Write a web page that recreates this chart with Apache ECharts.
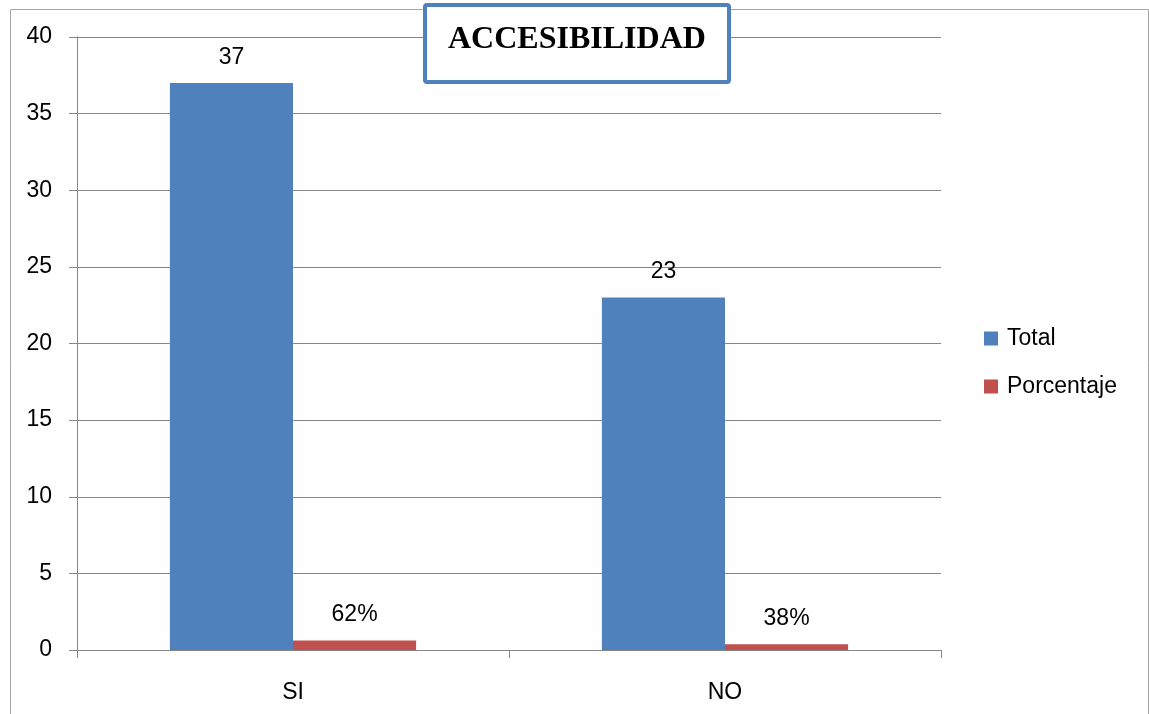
<!DOCTYPE html>
<html>
<head>
<meta charset="utf-8">
<script src="https://cdn.jsdelivr.net/npm/echarts@6/dist/echarts.min.js"></script>
<style>
html,body{margin:0;padding:0;background:#fff;}
#chart{width:1149px;height:714px;}
</style>
</head>
<body>
<div id="chart"></div>
<script>
const categories = ['SI', 'NO'];
const totalValues = [37, 23];
const porcentajeValues = [0.62, 0.38];
const seriesNames = ['Total', 'Porcentaje'];
const chartTitle = 'ACCESIBILIDAD';

const FONT = '"Liberation Sans", Arial, sans-serif';
const GRAY = '#868686';
const FS = 23;

const chart = echarts.init(document.getElementById('chart'));
chart.setOption({
  backgroundColor: '#fff',
  animation: false,
  title: {
    text: chartTitle,
    left: 425,
    top: 5,
    padding: [18, 23, 25, 23],
    backgroundColor: '#fff',
    borderColor: '#4f81bd',
    borderWidth: 4,
    borderRadius: 2,
    textStyle: {
      fontFamily: '"Liberation Serif", "Times New Roman", serif',
      fontWeight: 'bold',
      fontSize: 32,
      color: '#000',
      lineHeight: 34
    },
    z: 10
  },
  graphic: [{
    type: 'rect',
    left: 8, top: 7,
    shape: { width: 1138, height: 720 },
    style: { fill: 'none', stroke: '#a6a6a6', lineWidth: 1 },
    silent: true, z: -1
  }],
  legend: {
    orient: 'vertical',
    left: 984,
    top: 327,
    padding: 0,
    itemWidth: 14,
    itemHeight: 14,
    itemGap: 25,
    icon: 'rect',
    textStyle: { fontFamily: FONT, fontSize: FS, color: '#000', padding: [0, 0, 0, 4] },
    data: seriesNames
  },
  grid: { left: 77, right: 208, top: 37, bottom: 64 },
  xAxis: {
    type: 'category',
    data: categories,
    axisLine: { lineStyle: { color: GRAY, width: 1 } },
    axisTick: { show: true, length: 8, lineStyle: { color: GRAY } },
    axisLabel: { fontFamily: FONT, fontSize: FS, color: '#000', margin: 31 },
    splitLine: { show: false }
  },
  yAxis: {
    type: 'value',
    min: 0, max: 40, interval: 5,
    axisLine: { show: true, lineStyle: { color: GRAY, width: 1 } },
    axisTick: { show: true, length: 8, lineStyle: { color: GRAY } },
    axisLabel: { fontFamily: FONT, fontSize: FS, color: '#000', margin: 25 },
    splitLine: { show: true, lineStyle: { color: GRAY, width: 1 } }
  },
  series: [{
    name: seriesNames[0],
    type: 'bar',
    data: totalValues,
    barGap: '0%',
    barCategoryGap: '43%',
    itemStyle: { color: '#4f81bd' },
    label: { show: true, position: 'top', distance: 14, fontFamily: FONT, fontSize: FS, color: '#000' }
  }, {
    name: seriesNames[1],
    type: 'bar',
    data: porcentajeValues,
    itemStyle: { color: '#c0504d' },
    label: {
      show: true, position: 'top', distance: 14, fontFamily: FONT, fontSize: FS, color: '#000',
      formatter: p => Math.round(p.value * 100) + '%'
    }
  }]
});
</script>
</body>
</html>
